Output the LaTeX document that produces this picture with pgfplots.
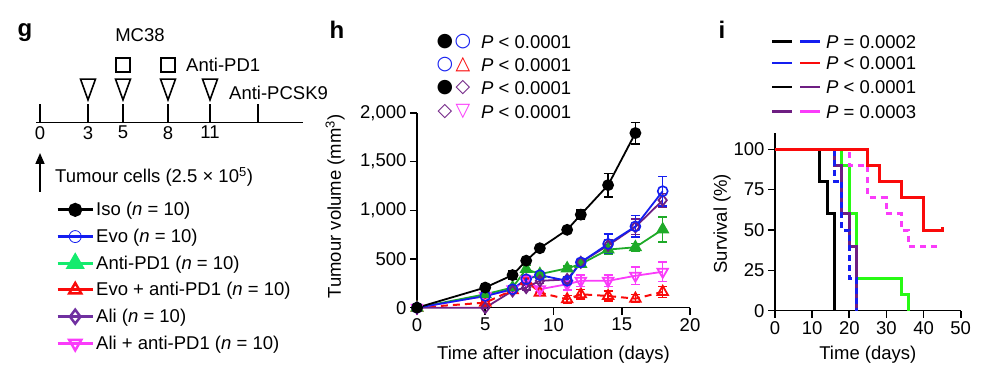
\documentclass[border=0pt]{standalone}
\usepackage{pgfplots}
\pgfplotsset{compat=1.18}
\usepackage{pgfplotstable}
\usepackage{fontspec}
\setmainfont{Liberation Sans}
\newfontfamily\symfont{DejaVu Sans}
\usetikzlibrary{arrows.meta}
\newcommand\fsz{\fontsize{18.5}{21}\selectfont}
\newcommand\sym{\fontsize{19}{21}\selectfont\symfont}

\definecolor{cblue}{RGB}{20,30,240}
\definecolor{cgreen}{RGB}{30,170,40}
\definecolor{lgreen}{RGB}{20,235,110}
\definecolor{sgreen}{RGB}{40,250,20}
\definecolor{cred}{RGB}{250,10,10}
\definecolor{cpurple}{RGB}{110,30,130}
\definecolor{lpurple}{RGB}{112,48,160}
\definecolor{cmag}{RGB}{250,60,250}

\pgfplotstableread{
x y e
0 0 0
5 207 25
7 335 40
8 483 20
9 611 20
11 800 20
12 956 45
14 1259 120
16 1794 110
}\iso
\pgfplotstableread{
x y e
0 0 0
5 120 15
7 190 20
8 293 30
9 335 25
11 276 30
12 466 30
14 655 100
16 835 110
18 1197 150
}\evo
\pgfplotstableread{
x y e
0 0 0
5 138 15
7 207 20
8 397 35
9 345 25
11 404 25
12 448 30
14 597 50
16 621 40
18 804 130
}\apd
\pgfplotstableread{
x y e
0 0 0
5 52 15
7 180 20
8 276 30
9 155 30
11 86 40
12 138 50
14 120 50
16 93 40
18 162 55
}\evoapd
\pgfplotstableread{
x y e
0 0 0
5 0 10
7 172 20
8 207 25
9 276 30
11 290 30
12 466 30
14 640 60
16 830 80
18 1104 70
}\ali
\pgfplotstableread{
x y e
0 0 0
5 120 15
7 190 20
8 290 30
9 190 30
11 241 60
12 276 60
14 276 60
16 328 90
18 369 100
}\aliapd

\pgfplotsset{
  panel/.style={
    scale only axis, clip=false,
    axis lines=left, axis line style={-, line width=1.6pt},
    tick align=outside, major tick length=7pt,
    tick style={line width=1.6pt, black},
    tick label style={font=\fsz},
    label style={font=\fsz},
    /pgf/number format/1000 sep={,},
    /pgf/number format/assume math mode=true,
    scaled ticks=false,
  },
  ebar/.style={
    error bars/y dir=both, error bars/y explicit,
    error bars/error bar style={line width=1.5pt},
    error bars/error mark options={rotate=90, mark size=4.5pt, line width=1.5pt},
  },
}

\begin{document}
\begin{tikzpicture}[font=\fsz]
\useasboundingbox (0,0) rectangle (982pt,382pt);

% ---------------- panel g ----------------
\begin{axis}[
  at={(36pt,259.3pt)}, anchor=south west, scale only axis,
  width=267pt, height=100pt, xmin=36, xmax=303, ymin=0, ymax=100,
  axis x line=bottom, axis y line=none, clip=false,
  axis line style={-, line width=1.6pt},
  xtick={40,88,123,168,210,258}, xticklabels={0,3,5,8,11,},
  tick align=inside, major tick length=19pt,
  tick style={line width=1.6pt, black},
  tick label style={font=\fsz},
  /pgf/number format/assume math mode=true,
  legend style={draw=none, fill=none, at={(0.075,-0.775)}, anchor=north west,
    font=\fsz, row sep=7.8pt, inner sep=0pt},
  legend cell align=left,
  legend image code/.code={\draw[mark repeat=2,mark phase=2] plot coordinates {(0pt,0pt) (17.5pt,0pt) (35pt,0pt)};},
]
\addplot[forget plot, only marks, mark=triangle, mark size=8.66pt,
  mark options={yscale=-1.6, line width=1.6pt, black}]
  coordinates {(88,36.7) (123,36.7) (168,36.7) (210,36.7)};
\addplot[forget plot, only marks, mark=square, mark size=7pt,
  mark options={line width=1.6pt, black}]
  coordinates {(123,57.7) (168,57.7)};
\addlegendimage{black, line width=3pt, mark=*, mark size=5.5pt}
\addlegendentry{Iso (\textit{n} = 10)}
\addlegendimage{cblue, line width=3pt, mark=o, mark size=6pt, mark options={line width=0.8pt}}
\addlegendentry{Evo (\textit{n} = 10)}
\addlegendimage{lgreen, line width=3pt, mark=triangle*, mark size=8pt}
\addlegendentry{Anti-PD1 (\textit{n} = 10)}
\addlegendimage{cred, line width=3pt, mark=triangle, mark size=7pt, mark options={line width=2.5pt}}
\addlegendentry{Evo + anti-PD1 (\textit{n} = 10)}
\addlegendimage{lpurple, line width=3pt, mark=diamond, mark size=7pt, mark options={line width=2.5pt}}
\addlegendentry{Ali (\textit{n} = 10)}
\addlegendimage{cmag, line width=3pt, mark=triangle, mark size=7pt, mark options={rotate=180, line width=2.5pt}}
\addlegendentry{Ali + anti-PD1 (\textit{n} = 10)}
\end{axis}

\node[font=\fontsize{24}{26}\selectfont\bfseries] at (25pt,349pt) {g};
\node at (140pt,347pt) {MC38};
\node[anchor=west, inner sep=0pt] at (186pt,317pt) {Anti-PD1};
\node[anchor=west, inner sep=0pt] at (229pt,289pt) {Anti-PCSK9};
\draw[line width=1.6pt, -{Triangle[length=11pt,width=9pt]}] (40pt,190pt) -- (40pt,229pt);
\node[anchor=west, inner sep=0pt] at (55pt,205pt) {Tumour cells (2.5 × 10\textsuperscript{5})};

% ---------------- panel h ----------------
\begin{axis}[panel,
  at={(417pt,74.3pt)}, anchor=south west,
  width=273pt, height=194.7pt,
  xmin=0, xmax=20, ymin=0, ymax=2000,
  xtick={0,5,...,20}, ytick={0,500,...,2000},
  xlabel={Time after inoculation (days)},
  ylabel={Tumour volume (mm\textsuperscript{3})},
  every axis x label/.style={at={(axis description cs:0.5,-0.243)}, anchor=center},
  every axis y label/.style={at={(axis description cs:-0.30,0.52)}, anchor=center, rotate=90},
]
\addplot[cred, line width=2pt, dash pattern=on 7pt off 5pt, mark=triangle, mark size=6pt,
  mark options={solid, line width=1.8pt}, ebar] table[x=x,y=y,y error=e]{\evoapd};
\addplot[cmag, line width=1.8pt, mark=triangle, mark size=6pt,
  mark options={rotate=180, line width=1.8pt}, ebar] table[x=x,y=y,y error=e]{\aliapd};
\addplot[cgreen, line width=1.8pt, mark=triangle*, mark size=6pt, ebar]
  table[x=x,y=y,y error=e]{\apd};
\addplot[cpurple, line width=1.8pt, mark=diamond, mark size=5.5pt,
  mark options={line width=1.8pt}, ebar] table[x=x,y=y,y error=e]{\ali};
\addplot[cblue, line width=1.8pt, mark=o, mark size=5pt,
  mark options={line width=1.6pt}, ebar] table[x=x,y=y,y error=e]{\evo};
\addplot[black, line width=1.8pt, mark=*, mark size=5pt, ebar]
  table[x=x,y=y,y error=e]{\iso};
\end{axis}

\node[font=\fontsize{24}{26}\selectfont\bfseries] at (337pt,352pt) {h};
% P-value key, panel h
\node[font=\sym, text=black] at (445pt,340.3pt) {●};
\node[font=\sym, text=cblue] at (463pt,340.3pt) {○};
\node[anchor=west, inner sep=0pt] at (481pt,340.3pt) {\textit{P} < 0.0001};
\node[font=\sym, text=cblue] at (445pt,317pt) {○};
\node[font=\sym, text=cred] at (463pt,317pt) {△};
\node[anchor=west, inner sep=0pt] at (481pt,317pt) {\textit{P} < 0.0001};
\node[font=\sym, text=black] at (445pt,294pt) {●};
\node[font=\sym, text=cpurple] at (463pt,294pt) {◇};
\node[anchor=west, inner sep=0pt] at (481pt,294pt) {\textit{P} < 0.0001};
\node[font=\sym, text=cpurple] at (445pt,270.3pt) {◇};
\node[font=\sym, text=cmag] at (463pt,270.3pt) {▽};
\node[anchor=west, inner sep=0pt] at (481pt,270.3pt) {\textit{P} < 0.0001};

% ---------------- panel i ----------------
\begin{axis}[panel,
  at={(775pt,71.3pt)}, anchor=south west,
  width=185.7pt, height=177.5pt,
  xmin=0, xmax=50, ymin=0, ymax=110,
  xtick={0,10,...,50}, ytick={0,25,50,75,100},
  xlabel={Time (days)}, ylabel={Survival (\%)},
  every axis x label/.style={at={(axis description cs:0.5,-0.25)}, anchor=center},
  every axis y label/.style={at={(axis description cs:-0.285,0.49)}, anchor=center, rotate=90},
]
\addplot[const plot, black, line width=3pt] coordinates {(0,100) (12,80) (14,60) (16,0)};
\addplot[const plot, sgreen, line width=3pt] coordinates {(0,100) (18,90) (20,60) (22,20) (34,10) (36,0)};
\addplot[const plot, cpurple, line width=3pt] coordinates {(0,100) (16,90) (18,60) (20,40) (22,0)};
\addplot[const plot, cblue, line width=3pt, dash pattern=on 6pt off 4pt] coordinates {(0,100) (16,80) (18,50) (20,20) (22,0)};
\addplot[const plot, cmag, line width=3pt, dash pattern=on 6pt off 5pt] coordinates {(0,100) (20,90) (25,70) (30,60) (34,50) (36,40) (45,40)};
\addplot[const plot, cred, line width=3pt] coordinates {(0,100) (25,90) (28,80) (34,70) (40,50) (45,50) (45,52)};
\end{axis}

\node[font=\fontsize{24}{26}\selectfont\bfseries] at (722pt,352pt) {i};
% P-value key, panel i
\node[anchor=west, inner sep=0pt] at (772pt,340.3pt) {\textcolor{black}{\rule[0.3em]{20pt}{2.5pt}}\hspace{8pt}\textcolor{cblue}{\rule[0.3em]{20pt}{2.5pt}}\hspace{6pt}\textit{P} = 0.0002};
\node[anchor=west, inner sep=0pt] at (772pt,318.7pt) {\textcolor{cblue}{\rule[0.3em]{20pt}{2.5pt}}\hspace{8pt}\textcolor{cred}{\rule[0.3em]{20pt}{2.5pt}}\hspace{6pt}\textit{P} < 0.0001};
\node[anchor=west, inner sep=0pt] at (772pt,294.7pt) {\textcolor{black}{\rule[0.3em]{20pt}{2.5pt}}\hspace{8pt}\textcolor{cpurple}{\rule[0.3em]{20pt}{2.5pt}}\hspace{6pt}\textit{P} < 0.0001};
\node[anchor=west, inner sep=0pt] at (772pt,270.3pt) {\textcolor{cpurple}{\rule[0.3em]{20pt}{2.5pt}}\hspace{8pt}\textcolor{cmag}{\rule[0.3em]{20pt}{2.5pt}}\hspace{6pt}\textit{P} = 0.0003};
\end{tikzpicture}
\end{document}
